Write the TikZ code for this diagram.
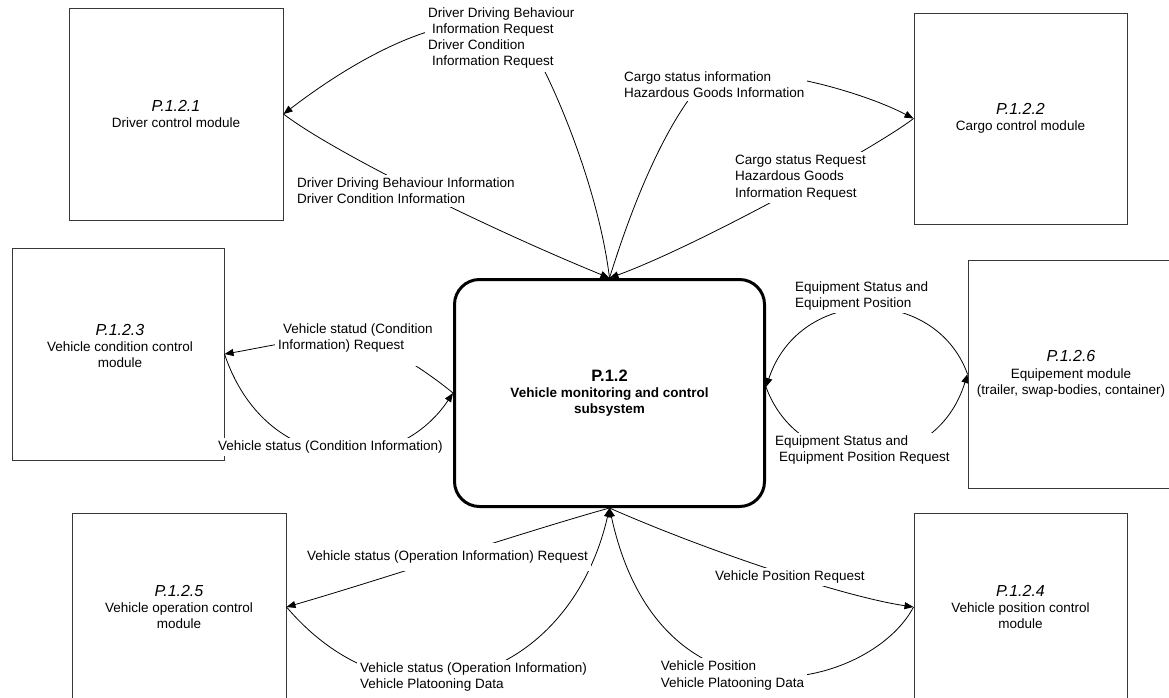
\documentclass[tikz,border=0pt]{standalone}
\usepackage{fontspec}
\setmainfont{Liberation Sans}
\usetikzlibrary{arrows.meta}
\newcommand\dgLab{\fontsize{13.5}{16.3}\selectfont}
\newcommand\dgTtl{\fontsize{16}{16.3}\selectfont\itshape}
\newcommand\dgHd{\fontsize{16.5}{18}\selectfont\bfseries}
\begin{document}
\begin{tikzpicture}[x=1pt,y=-1pt,
  mod/.style={draw=black!78, line width=1pt, fill=white, align=center, inner sep=0pt, font=\dgLab},
  modtext/.style={align=center, inner sep=0pt, font=\dgLab},
  lab/.style={fill=white, inner sep=3pt, align=left, font=\dgLab, anchor=west},
  flow/.style={line width=0.8pt, -{Triangle[length=9pt,width=7pt]}}]
\clip (0,0) rectangle (1169,697);
% modules
\node[mod, minimum width=214pt, minimum height=212pt] (m1) at (176,114) {{\dgTtl P.1.2.1}\\Driver control module};
\node[mod, minimum width=213pt, minimum height=211pt] (m2) at (1020.5,118.5) {{\dgTtl P.1.2.2}\\Cargo control module};
\node[mod, minimum width=212pt, minimum height=212pt] (m3) at (118,354) {};
\node[modtext] (t3) at (120,346) {{\dgTtl P.1.2.3}\\Vehicle condition control\\module};
\node[mod, minimum width=206pt, minimum height=228pt] (m6) at (1071,374) {{\dgTtl P.1.2.6}\\Equipement module\\(trailer, swap-bodies, container)};
\node[mod, minimum width=214pt, minimum height=188pt] (m5) at (179,607) {{\dgTtl P.1.2.5}\\Vehicle operation control\\module};
\node[mod, minimum width=213pt, minimum height=188pt] (m4) at (1020.5,607) {{\dgTtl P.1.2.4}\\Vehicle position control\\module};
% central subsystem
\node[draw, line width=3pt, rounded corners=25pt, minimum width=310pt, minimum height=227pt, align=center, font=\dgLab\bfseries, fill=white] (c) at (609.5,393) {{\dgHd P.1.2}\\Vehicle monitoring and control\\subsystem};
% connectors
\draw[flow] (c.north) .. controls (600,200) and (565,110) .. (540,62) .. controls (510,-10) and (400,25) .. (m1.east);
\draw[flow] (m1.east) .. controls (330,150) and (480,225) .. (c.north);
\draw[flow] (c.north) .. controls (640,180) and (672,118) .. (700,85) .. controls (730,55) and (855,88) .. (m2.west);
\draw[flow] (m2.west) .. controls (880,145) and (700,245) .. (c.north);
\draw[flow] (c.west) .. controls (425,370) and (380,340) .. (350,338) .. controls (310,336) and (260,348) .. (m3.east);
\draw[flow] (m3.east) .. controls (265,475) and (395,480) .. (c.west);
\draw[flow] (m6.west) .. controls (935,285) and (800,285) .. ([yshift=6pt]c.east);
\draw[flow] ([yshift=6pt]c.east) .. controls (800,480) and (935,480) .. (m6.west);
\draw[flow] (c.south) .. controls (530,530) and (380,580) .. (m5.east);
\draw[flow] (m5.east) .. controls (400,740) and (570,680) .. (c.south);
\draw[flow] (c.south) .. controls (700,548) and (840,596) .. (m4.west);
\draw[flow] (m4.west) .. controls (870,690) and (660,740) .. (c.south);
% labels
\node[lab] (l1) at (425,38) {Driver Driving Behaviour\\\hspace*{4pt}Information Request\\Driver Condition\\\hspace*{4pt}Information Request};
\node[lab] (l2) at (294,191) {Driver Driving Behaviour Information\\Driver Condition Information};
\node[lab] (l3) at (621,85) {Cargo status information\\Hazardous Goods Information};
\node[lab] (l4) at (732,177.5) {Cargo status Request\\Hazardous Goods\\Information Request};
\node[lab, inner ysep=14pt] (l5) at (275,338) {\hspace*{5pt}Vehicle statud (Condition\\Information) Request};
\node[lab] (l6) at (215,447) {Vehicle status (Condition Information)};
\node[lab] (l7) at (792,296) {Equipment Status and\\Equipment Position};
\node[lab] (l8) at (772,450) {Equipment Status and\\\hspace*{4pt}Equipment Position Request};
\node[lab, inner ysep=8pt] (l9) at (304,557) {Vehicle status (Operation Information) Request};
\node[lab] (l10) at (357,677) {Vehicle status (Operation Information)\\Vehicle Platooning Data};
\node[lab] (l11) at (712,577) {Vehicle Position Request};
\node[lab] (l12) at (657.6,675.5) {Vehicle Position\\Vehicle Platooning Data};
\end{tikzpicture}
\end{document}
